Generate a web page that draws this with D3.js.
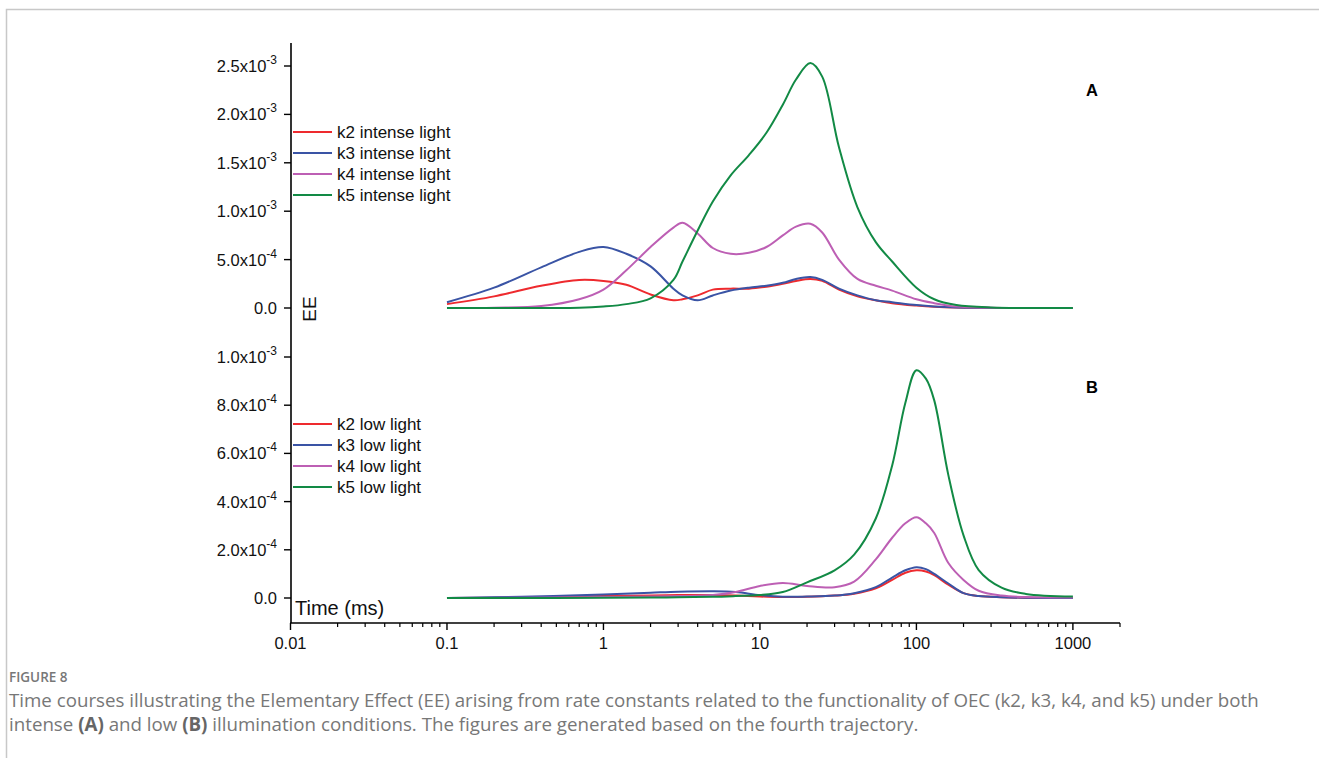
<!DOCTYPE html>
<html>
<head>
<meta charset="utf-8">
<script src="https://cdn.jsdelivr.net/npm/d3@7"></script>
<style>
  body { margin: 0; background: #fff; }
  svg { display: block; }
</style>
</head>
<body>
<div id="chartArea"></div>
<script>
// time grid (ms) for panel A, intense light
const timeA = [0.1, 0.2, 0.4, 0.7, 1.0, 1.4, 2.0, 2.8, 3.2, 4.0, 5.0, 6.5, 8.5, 11, 14, 17, 21, 25, 32, 42, 55, 70, 100, 130, 180, 300, 1000]
// EE values in units of 1e-3
const k2Intense = [0.04, 0.12, 0.23, 0.29, 0.28, 0.24, 0.14, 0.08, 0.09, 0.13, 0.19, 0.20, 0.20, 0.22, 0.25, 0.28, 0.30, 0.28, 0.19, 0.12, 0.08, 0.05, 0.025, 0.012, 0.004, 0.001, 0]
const k3Intense = [0.06, 0.21, 0.42, 0.58, 0.63, 0.56, 0.43, 0.20, 0.13, 0.08, 0.13, 0.18, 0.21, 0.23, 0.26, 0.30, 0.32, 0.29, 0.20, 0.13, 0.08, 0.06, 0.03, 0.015, 0.005, 0.001, 0]
const k4Intense = [0, 0.003, 0.02, 0.09, 0.19, 0.39, 0.63, 0.83, 0.88, 0.77, 0.62, 0.56, 0.57, 0.63, 0.75, 0.84, 0.87, 0.78, 0.50, 0.30, 0.23, 0.18, 0.09, 0.05, 0.015, 0.003, 0]
const k5Intense = [0, 0, 0, 0.002, 0.015, 0.04, 0.10, 0.29, 0.48, 0.80, 1.10, 1.37, 1.58, 1.81, 2.10, 2.36, 2.53, 2.39, 1.66, 1.04, 0.68, 0.48, 0.21, 0.09, 0.03, 0.005, 0.001]

// time grid (ms) for panel B, low light
const timeB = [0.1, 0.3, 1, 2, 3, 5, 7, 10, 14, 20, 30, 40, 55, 70, 85, 100, 115, 130, 160, 200, 250, 350, 500, 1000]
const k2Low = [0, 0.002, 0.008, 0.010, 0.012, 0.012, 0.010, 0.006, 0.004, 0.005, 0.010, 0.018, 0.040, 0.075, 0.105, 0.115, 0.110, 0.095, 0.055, 0.020, 0.008, 0.003, 0.001, 0]
const k3Low = [0, 0.005, 0.015, 0.022, 0.026, 0.028, 0.025, 0.012, 0.005, 0.006, 0.010, 0.020, 0.045, 0.085, 0.115, 0.128, 0.120, 0.100, 0.060, 0.020, 0.008, 0.003, 0.001, 0]
const k4Low = [0, 0.001, 0.004, 0.006, 0.008, 0.012, 0.025, 0.050, 0.062, 0.050, 0.045, 0.068, 0.160, 0.250, 0.310, 0.335, 0.310, 0.270, 0.145, 0.075, 0.030, 0.010, 0.004, 0.002]
const k5Low = [0, 0, 0.001, 0.002, 0.003, 0.005, 0.008, 0.012, 0.025, 0.065, 0.115, 0.180, 0.330, 0.550, 0.810, 0.945, 0.910, 0.820, 0.510, 0.260, 0.116, 0.043, 0.017, 0.006]

const legendA = ['k2 intense light', 'k3 intense light', 'k4 intense light', 'k5 intense light']
const legendB = ['k2 low light', 'k3 low light', 'k4 low light', 'k5 low light']
const colors = ['#ee2a2e', '#3a54a5', '#bd5fb4', '#128a45']

const ticksA = [0, 5e-4, 1e-3, 1.5e-3, 2e-3, 2.5e-3]
const ticksB = [0, 2e-4, 4e-4, 6e-4, 8e-4, 1e-3]
const ticksX = [0.01, 0.1, 1, 10, 100, 1000]

const width = 1319
const height = 758

const svg = d3
  .select('#chartArea')
  .append('svg')
  .attr('width', width)
  .attr('height', height)

// page frame (top and left rule)
svg.append('path')
  .attr('d', 'M6.5,758 V9.5 H1319')
  .attr('fill', 'none')
  .attr('stroke', '#c8c8c8')
  .attr('stroke-width', 1.5)

// scales
const xScale = d3.scaleLog().domain([0.01, 2000]).range([290.5, 1120])
const yA = d3.scaleLinear().domain([0, 2.5e-3]).range([308, 66])
const yB = d3.scaleLinear().domain([0, 1e-3]).range([598, 357])

const axisX = 291
const axisTop = 43
const axisBottom = 623

const font = 'Liberation Sans, Arial, sans-serif'

//
// y axis line
//
svg.append('line')
  .attr('x1', axisX).attr('x2', axisX)
  .attr('y1', axisTop).attr('y2', axisBottom)
  .attr('stroke', '#000')
  .attr('stroke-width', 1.6)

//
// x axis line
//
svg.append('line')
  .attr('x1', axisX - 0.8).attr('x2', xScale(2000))
  .attr('y1', axisBottom).attr('y2', axisBottom)
  .attr('stroke', '#000')
  .attr('stroke-width', 1.6)

// format 2.5e-3 as 2.5x10^-3
const tickLabel = (g, v) => {
  if (v === 0) {
    g.append('tspan').text('0.0')
    return
  }
  const e = Math.floor(Math.log10(v) + 1e-9)
  const m = v / Math.pow(10, e)
  g.append('tspan').text(m.toFixed(1) + 'x10')
  g.append('tspan').text(String(e)).attr('dy', -8).attr('font-size', 12)
}

// y ticks for both panels
const drawYTicks = (ticks, scale) => {
  ticks.forEach(v => {
    const y = scale(v)
    svg.append('line')
      .attr('x1', axisX - 7).attr('x2', axisX)
      .attr('y1', y).attr('y2', y)
      .attr('stroke', '#000')
      .attr('stroke-width', 1.4)
    const t = svg.append('text')
      .attr('x', 277)
      .attr('y', y + 6)
      .attr('text-anchor', 'end')
      .attr('font-family', font)
      .attr('font-size', 16.5)
      .attr('fill', '#111')
    tickLabel(t, v)
  })
}
drawYTicks(ticksA, yA)
drawYTicks(ticksB, yB)

//
// x ticks (log, major + minor)
//
const minor = []
for (let d = 0.01; d < 2000; d *= 10) {
  for (let k = 2; k <= 9; k++) if (d * k <= 2000) minor.push(d * k)
}
svg.selectAll('.minor')
  .data(minor)
  .enter()
  .append('line')
  .attr('x1', d => xScale(d)).attr('x2', d => xScale(d))
  .attr('y1', axisBottom).attr('y2', axisBottom + 4)
  .attr('stroke', '#000')
  .attr('stroke-width', 1.2)

svg.selectAll('.major')
  .data(ticksX)
  .enter()
  .append('line')
  .attr('x1', d => xScale(d)).attr('x2', d => xScale(d))
  .attr('y1', axisBottom).attr('y2', axisBottom + 7)
  .attr('stroke', '#000')
  .attr('stroke-width', 1.4)

svg.selectAll('.xlabel')
  .data(ticksX)
  .enter()
  .append('text')
  .attr('x', d => xScale(d))
  .attr('y', 649)
  .attr('text-anchor', 'middle')
  .attr('font-family', font)
  .attr('font-size', 16.5)
  .attr('fill', '#111')
  .text(d => d)

//
// curves
//
const drawPanel = (time, series, scale) => {
  const line = d3.line()
    .x(d => xScale(d[0]))
    .y(d => scale(d[1] * 1e-3))
    .curve(d3.curveCatmullRom.alpha(0.5))
  series.forEach((vals, i) => {
    svg.append('path')
      .datum(time.map((t, j) => [t, vals[j]]))
      .attr('d', line)
      .attr('fill', 'none')
      .attr('stroke', colors[i])
      .attr('stroke-width', 2)
  })
}
drawPanel(timeA, [k2Intense, k3Intense, k4Intense, k5Intense], yA)
drawPanel(timeB, [k2Low, k3Low, k4Low, k5Low], yB)

//
// legends
//
const drawLegend = (labels, y0) => {
  labels.forEach((l, i) => {
    const y = y0 + i * 21
    svg.append('line')
      .attr('x1', 293).attr('x2', 332)
      .attr('y1', y).attr('y2', y)
      .attr('stroke', colors[i])
      .attr('stroke-width', 2)
    svg.append('text')
      .attr('x', 337)
      .attr('y', y + 6)
      .attr('font-family', font)
      .attr('font-size', 17)
      .attr('fill', '#111')
      .text(l)
  })
}
drawLegend(legendA, 132)
drawLegend(legendB, 424)

// panel letters
svg.append('text').attr('x', 1092).attr('y', 96).attr('text-anchor', 'middle')
  .attr('font-family', font).attr('font-size', 16.5).attr('font-weight', 'bold').text('A')
svg.append('text').attr('x', 1092).attr('y', 393).attr('text-anchor', 'middle')
  .attr('font-family', font).attr('font-size', 16.5).attr('font-weight', 'bold').text('B')

// axis titles
svg.append('text')
  .attr('transform', 'translate(316,309) rotate(-90)')
  .attr('text-anchor', 'middle')
  .attr('font-family', font)
  .attr('font-size', 19)
  .attr('fill', '#111')
  .text('EE')

svg.append('text')
  .attr('x', 295)
  .attr('y', 615)
  .attr('font-family', font)
  .attr('font-size', 20)
  .attr('fill', '#111')
  .text('Time (ms)')

//
// caption
//
const capFont = 'Open Sans, Noto Sans, sans-serif'
svg.append('text')
  .attr('x', 9).attr('y', 682)
  .attr('font-family', capFont)
  .attr('font-size', 13.5)
  .attr('font-weight', 600)
  .attr('fill', '#777')
  .text('FIGURE 8')

const line1 = svg.append('text')
  .attr('x', 9).attr('y', 707)
  .attr('font-family', capFont)
  .attr('font-size', 16)
  .attr('fill', '#777')
line1.append('tspan').text('Time courses illustrating the Elementary Effect (EE) arising from rate constants related to the functionality of OEC (k2, k3, k4, and k5) under both')

const line2 = svg.append('text')
  .attr('x', 9).attr('y', 731)
  .attr('font-family', capFont)
  .attr('font-size', 16)
  .attr('fill', '#777')
line2.append('tspan').text('intense ')
line2.append('tspan').attr('font-weight', 'bold').attr('fill', '#666').text('(A)')
line2.append('tspan').text(' and low ')
line2.append('tspan').attr('font-weight', 'bold').attr('fill', '#666').text('(B)')
line2.append('tspan').text(' illumination conditions. The figures are generated based on the fourth trajectory.')

// fit caption width to the source (line 1 spans ~1251px)
const w1 = line1.node().getComputedTextLength()
const fs = 16 * 1251 / w1
line1.attr('font-size', fs)
line2.attr('font-size', fs)
</script>
</body>
</html>
